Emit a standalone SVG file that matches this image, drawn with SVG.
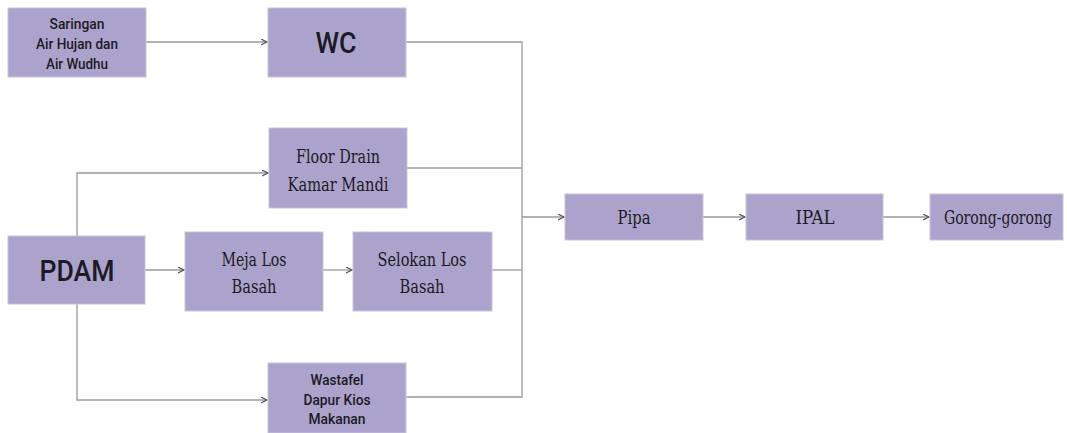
<svg xmlns="http://www.w3.org/2000/svg" width="1067" height="433" viewBox="0 0 1067 433">
<defs>
<marker id="arr" markerWidth="8" markerHeight="8" refX="6" refY="3" orient="auto" markerUnits="userSpaceOnUse">
<path d="M0,0 L6,3 L0,6" fill="none" stroke="#555" stroke-width="1.2"/>
</marker>
<style>
.box{fill:#ABA3CB;stroke:#C9C3DD;stroke-width:1}
.sans{font-family:Roboto,"DejaVu Sans Condensed",sans-serif;font-weight:500;fill:#1c1a26;text-anchor:middle}
.slab{font-family:"DejaVu Serif Condensed","DejaVu Serif",serif;font-stretch:condensed;fill:#1c1a26;text-anchor:middle}
.ln{fill:none;stroke:#9a9a9a;stroke-width:1.3}
</style>
</defs>
<rect width="1067" height="433" fill="#ffffff"/>
<g id="connectors">
<path class="ln" d="M145,42 H267" marker-end="url(#arr)"/>
<path class="ln" d="M406,42 H522 V397 H406"/>
<path class="ln" d="M407,168 H522"/>
<path class="ln" d="M492,270 H522"/>
<path class="ln" d="M522,217 H564" marker-end="url(#arr)"/>
<path class="ln" d="M77,236 V173 H268" marker-end="url(#arr)"/>
<path class="ln" d="M145,270 H184" marker-end="url(#arr)"/>
<path class="ln" d="M323,270 H352" marker-end="url(#arr)"/>
<path class="ln" d="M77,304 V400 H267" marker-end="url(#arr)"/>
<path class="ln" d="M703,217 H745" marker-end="url(#arr)"/>
<path class="ln" d="M883,217 H929" marker-end="url(#arr)"/>
</g>
<g id="saringan">
<rect class="box" x="8" y="8" width="138" height="69"/>
<text class="sans" font-size="15" x="77" y="29" textLength="55" lengthAdjust="spacingAndGlyphs">Saringan</text>
<text class="sans" font-size="15" x="77" y="49" textLength="82" lengthAdjust="spacingAndGlyphs">Air Hujan dan</text>
<text class="sans" font-size="15" x="77" y="69" textLength="62" lengthAdjust="spacingAndGlyphs">Air Wudhu</text>
</g>
<g id="wc">
<rect class="box" x="268" y="8" width="138" height="69"/>
<text class="sans" font-size="30" x="336" y="53" textLength="41" lengthAdjust="spacingAndGlyphs">WC</text>
</g>
<g id="floordrain">
<rect class="box" x="269" y="128" width="138" height="80"/>
<text class="slab" font-size="19" x="338" y="163" textLength="84" lengthAdjust="spacingAndGlyphs">Floor Drain</text>
<text class="slab" font-size="19" x="338" y="191" textLength="101" lengthAdjust="spacingAndGlyphs">Kamar Mandi</text>
</g>
<g id="pdam">
<rect class="box" x="8" y="236" width="137" height="68"/>
<text class="sans" font-size="30" x="77" y="281" textLength="75" lengthAdjust="spacingAndGlyphs">PDAM</text>
</g>
<g id="meja">
<rect class="box" x="185" y="232" width="138" height="79"/>
<text class="slab" font-size="19" x="254" y="266" textLength="65" lengthAdjust="spacingAndGlyphs">Meja Los</text>
<text class="slab" font-size="19" x="254" y="293" textLength="45" lengthAdjust="spacingAndGlyphs">Basah</text>
</g>
<g id="selokan">
<rect class="box" x="353" y="232" width="139" height="79"/>
<text class="slab" font-size="19" x="422" y="266" textLength="89" lengthAdjust="spacingAndGlyphs">Selokan Los</text>
<text class="slab" font-size="19" x="422" y="293" textLength="45" lengthAdjust="spacingAndGlyphs">Basah</text>
</g>
<g id="wastafel">
<rect class="box" x="268" y="363" width="138" height="70"/>
<text class="sans" font-size="15" x="337" y="385" textLength="53" lengthAdjust="spacingAndGlyphs">Wastafel</text>
<text class="sans" font-size="15" x="337" y="405" textLength="67" lengthAdjust="spacingAndGlyphs">Dapur Kios</text>
<text class="sans" font-size="15" x="337" y="424" textLength="57" lengthAdjust="spacingAndGlyphs">Makanan</text>
</g>
<g id="pipa">
<rect class="box" x="565" y="194" width="138" height="46"/>
<text class="slab" font-size="19" x="634" y="224" textLength="33" lengthAdjust="spacingAndGlyphs">Pipa</text>
</g>
<g id="ipal">
<rect class="box" x="746" y="194" width="137" height="46"/>
<text class="slab" font-size="19" x="815" y="224" textLength="39" lengthAdjust="spacingAndGlyphs">IPAL</text>
</g>
<g id="gorong">
<rect class="box" x="930" y="194" width="133" height="46"/>
<text class="slab" font-size="19" x="998" y="224" textLength="108" lengthAdjust="spacingAndGlyphs">Gorong-gorong</text>
</g>
</svg>
